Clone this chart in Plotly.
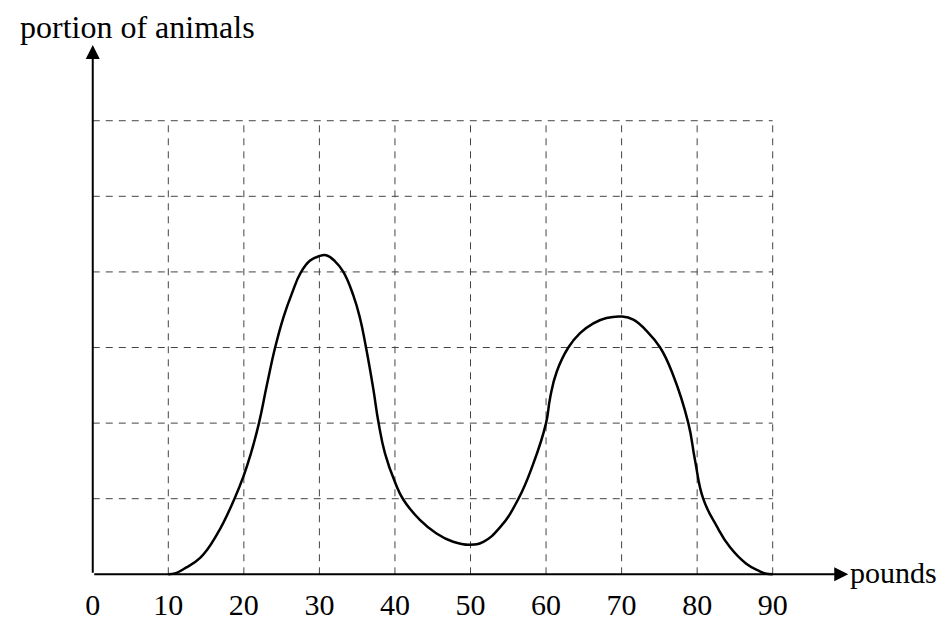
import plotly.graph_objects as go

# ---- data ----
pounds = [10, 11, 12.04, 14.25, 16.46, 18.76, 20.0, 20.88, 22.0, 23.04, 24.14, 25.24, 26.34,
          27.53, 28.77, 30.0, 30.9, 32.07, 33.17, 34.49, 35.37, 36.17, 37.14, 37.8,
          38.68, 40.0, 41.1, 43.3, 45.5, 47.7, 49.9, 51.7, 53.9, 56.3, 58.3, 60.0,
          60.53, 61.41, 62.95, 64.5, 66.26, 68.0, 70.0, 71.55, 73.3, 75.1, 76.84,
          78.83, 79.7, 80.8, 82.57, 84.33, 86.5, 88.3, 89, 90]
portion = [0.0, 0.015, 0.07, 0.22, 0.53, 1.0, 1.31, 1.58, 2.0, 2.5, 3.0, 3.4, 3.71,
           3.99, 4.15, 4.21, 4.22, 4.14, 4.0, 3.69, 3.39, 3.0, 2.45, 2.02,
           1.6, 1.22, 0.99, 0.72, 0.54, 0.43, 0.39, 0.43, 0.62, 0.99, 1.46, 2.0,
           2.33, 2.68, 3.0, 3.19, 3.32, 3.39, 3.41, 3.37, 3.22, 3.0, 2.63,
           2.0, 1.52, 1.0, 0.64, 0.36, 0.14, 0.04, 0.01, 0.0]

x_ticks = [0, 10, 20, 30, 40, 50, 60, 70, 80, 90]
x_tick_labels = ["0", "10", "20", "30", "40", "50", "60", "70", "80", "90"]
grid_x = [10, 20, 30, 40, 50, 60, 70, 80, 90]
grid_y = [1, 2, 3, 4, 5, 6]
x_axis_end = 100
y_axis_end = 7
x_label = "pounds"
y_label = "portion of animals"

FONT = "Liberation Serif"

fig = go.Figure()

fig.add_trace(go.Scatter(
    x=pounds, y=portion, mode="lines",
    line=dict(color="black", width=2.5, shape="spline", smoothing=1.3),
    hoverinfo="skip", showlegend=False,
))

shapes = []
for gx in grid_x:
    shapes.append(dict(type="line", xref="x", yref="y", x0=gx, x1=gx, y0=0, y1=max(grid_y),
                       line=dict(color="#444", width=1, dash="7px,6px"), layer="below"))
for gy in grid_y:
    shapes.append(dict(type="line", xref="x", yref="y", x0=0, x1=max(grid_x), y0=gy, y1=gy,
                       line=dict(color="#444", width=1, dash="7px,6px"), layer="below"))

annotations = [
    # x axis arrow
    dict(x=x_axis_end, y=0, ax=0, ay=0, xref="x", yref="y", axref="x", ayref="y",
         text="", showarrow=True, arrowhead=2, arrowsize=1.4, arrowwidth=2,
         arrowcolor="black", standoff=0, startstandoff=0),
    # y axis arrow
    dict(x=0, y=y_axis_end, ax=0, ay=0, xref="x", yref="y", axref="x", ayref="y",
         text="", showarrow=True, arrowhead=2, arrowsize=1.4, arrowwidth=2,
         arrowcolor="black", standoff=0, startstandoff=0),
    dict(x=x_axis_end, y=0.03, xref="x", yref="y", text=x_label, showarrow=False,
         xanchor="left", yanchor="middle", font=dict(family=FONT, size=30, color="black")),
    dict(x=5.86, y=7.24, xref="x", yref="y", text=y_label, showarrow=False,
         xanchor="center", yanchor="middle", font=dict(family=FONT, size=32, color="black")),
]

fig.update_layout(
    width=950, height=626,
    margin=dict(l=0, r=0, t=0, b=0),
    paper_bgcolor="white", plot_bgcolor="white",
    shapes=shapes, annotations=annotations,
    xaxis=dict(range=[-11.218, 114.527], showgrid=False, zeroline=False, showline=False,
               anchor="free", position=0.09537,
               tickvals=x_ticks, ticktext=x_tick_labels, ticks="",
               ticklabelstandoff=10,
               tickfont=dict(family=FONT, size=30, color="black")),
    yaxis=dict(range=[-0.7897, 7.491], showgrid=False, zeroline=False, showline=False,
               showticklabels=False, ticks=""),
    font=dict(family=FONT, color="black"),
)

fig.write_html("out.html")
